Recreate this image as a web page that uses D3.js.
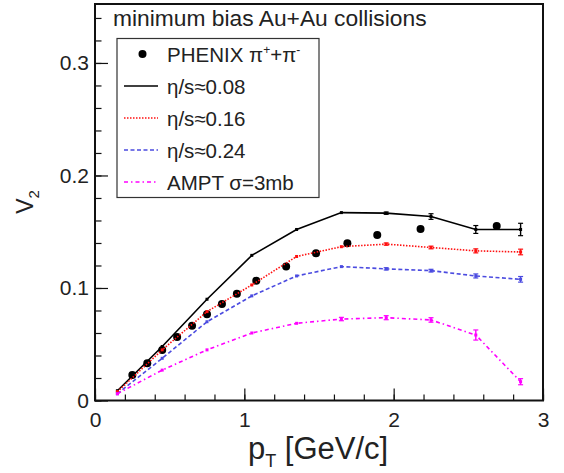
<!DOCTYPE html>
<html>
<head>
<meta charset="utf-8">
<script src="https://cdn.jsdelivr.net/npm/d3@7"></script>
<style>
  body { margin: 0; background: #fff; }
  svg text { font-family: "Liberation Sans", Arial, Helvetica, sans-serif; fill: #222; }
</style>
</head>
<body>
<div id="chart"></div>
<script>
// model curves share the same pT nodes
var ptModel = [0.15, 0.45, 0.75, 1.05, 1.35, 1.65, 1.95, 2.25, 2.55, 2.85]
var v2Eta008 = [0.0087, 0.048, 0.090, 0.129, 0.152, 0.167, 0.1665, 0.1635, 0.152, 0.152]
var err008 = [0, 0, 0, 0, 0, 0, 0.001, 0.0025, 0.0035, 0.0055]
var v2Eta016 = [0.0078, 0.045, 0.079, 0.1027, 0.128, 0.1367, 0.139, 0.136, 0.133, 0.132]
var err016 = [0, 0, 0, 0, 0, 0, 0.001, 0.0012, 0.0018, 0.0025]
var v2Eta024 = [0.006, 0.0375, 0.070, 0.093, 0.1107, 0.119, 0.117, 0.1154, 0.1107, 0.1077]
var err024 = [0, 0, 0, 0, 0, 0, 0.001, 0.0012, 0.0018, 0.0025]
var v2Ampt = [0.006, 0.027, 0.045, 0.060, 0.0686, 0.0724, 0.0736, 0.0716, 0.0582, 0.0167]
var errAmpt = [0, 0, 0, 0, 0, 0.0015, 0.0018, 0.002, 0.0045, 0.0027]

// PHENIX pi+ + pi- data
var ptData = [0.25, 0.35, 0.45, 0.55, 0.65, 0.75, 0.85, 0.95, 1.08, 1.28, 1.48, 1.69, 1.89, 2.18, 2.69]
var v2Data = [0.0227, 0.033, 0.0449, 0.0564, 0.0665, 0.0766, 0.0858, 0.0949, 0.1065, 0.119, 0.1308, 0.1397, 0.147, 0.1524, 0.155]

var xTicks = [0, 1, 2, 3]
var yTicks = [0, 0.1, 0.2, 0.3]

var W = 564, H = 473
var m = [4, 21, 72.5, 95] // top right bottom left

var x = d3.scaleLinear().domain([0, 3]).range([m[3], W - m[1]])
var y = d3.scaleLinear().domain([0, 0.3524]).range([H - m[2], m[0]])

var svg = d3.select("#chart").append("svg")
    .attr("width", W)
    .attr("height", H)

svg.append("rect").attr("width", W).attr("height", H).attr("fill", "#fff")

// minor ticks first, majors on top
var yMinor = d3.axisLeft(y).tickValues(d3.range(0, 0.35, 0.02)).tickSize(-6.5).tickFormat("")
var yMajor = d3.axisLeft(y).tickValues(yTicks).tickSize(-13).tickPadding(6)
    .tickFormat(function (d) { return d === 0 ? "0" : d3.format(".1f")(d) })
var xMinor = d3.axisBottom(x).tickValues(d3.range(0, 3.01, 0.2)).tickSize(-6).tickFormat("")
var xMajor = d3.axisBottom(x).tickValues(xTicks).tickSize(-12).tickPadding(12).tickFormat(d3.format("d"))

function styleAxis(g) {
    g.select(".domain").remove()
    g.selectAll("line").attr("stroke", "#111").attr("stroke-width", 1.2)
    g.selectAll("text").attr("font-size", 21).attr("fill", "#222")
        .style("font-family", '"Liberation Sans", Arial, sans-serif')
}

svg.append("g").attr("transform", "translate(" + m[3] + ",0)").call(yMinor).call(styleAxis)
svg.append("g").attr("transform", "translate(" + m[3] + ",0)").call(yMajor).call(styleAxis)
svg.append("g").attr("transform", "translate(0," + (H - m[2]) + ")").call(xMinor).call(styleAxis)
svg.append("g").attr("transform", "translate(0," + (H - m[2]) + ")").call(xMajor).call(styleAxis)

// frame
svg.append("rect")
    .attr("x", x(0)).attr("y", y(0.3524))
    .attr("width", x(3) - x(0)).attr("height", y(0) - y(0.3524))
    .attr("fill", "none").attr("stroke", "#111").attr("stroke-width", 2)

// PHENIX points
svg.append("g").selectAll("circle")
    .data(ptData)
    .enter().append("circle")
    .attr("cx", function (d) { return x(d) })
    .attr("cy", function (d, i) { return y(v2Data[i]) })
    .attr("r", 4)
    .attr("fill", "#000")

var series = [
    { v: v2Eta008, e: err008, color: "#000", dash: null, width: 1.6 },
    { v: v2Eta016, e: err016, color: "#ff1010", dash: "1.5 1.5", width: 1.6 },
    { v: v2Eta024, e: err024, color: "#4b4be0", dash: "4 2.5", width: 1.6 },
    { v: v2Ampt, e: errAmpt, color: "#ff00ff", dash: "4 3 1.5 3", width: 1.6 }
]

var line = d3.line()
    .x(function (d) { return x(d[0]) })
    .y(function (d) { return y(d[1]) })

series.forEach(function (s) {
    var pts = ptModel.map(function (p, i) { return [p, s.v[i], s.e[i]] })
    var g = svg.append("g")
    g.append("path")
        .attr("d", line(pts))
        .attr("fill", "none")
        .attr("stroke", s.color)
        .attr("stroke-width", s.width)
        .attr("stroke-dasharray", s.dash)
    // node markers
    g.selectAll("rect.node").data(pts).enter().append("rect")
        .attr("x", function (d) { return x(d[0]) - 1.5 })
        .attr("y", function (d) { return y(d[1]) - 1.5 })
        .attr("width", 3).attr("height", 3)
        .attr("fill", s.color)
    // error bars
    var eb = g.selectAll("g.err").data(pts.filter(function (d) { return d[2] > 0 })).enter().append("g")
    eb.append("line")
        .attr("x1", function (d) { return x(d[0]) })
        .attr("x2", function (d) { return x(d[0]) })
        .attr("y1", function (d) { return y(d[1] - d[2]) })
        .attr("y2", function (d) { return y(d[1] + d[2]) })
        .attr("stroke", s.color).attr("stroke-width", 1.4)
    eb.selectAll("line.cap").data(function (d) { return [[d[0], d[1] - d[2]], [d[0], d[1] + d[2]]] })
        .enter().append("line")
        .attr("x1", function (d) { return x(d[0]) - 2.5 })
        .attr("x2", function (d) { return x(d[0]) + 2.5 })
        .attr("y1", function (d) { return y(d[1]) })
        .attr("y2", function (d) { return y(d[1]) })
        .attr("stroke", s.color).attr("stroke-width", 1.2)
})

// title
svg.append("text")
    .attr("x", 113).attr("y", 26)
    .attr("font-size", 22.8)
    .text("minimum bias Au+Au collisions")

// legend
var lg = svg.append("g")
lg.append("rect")
    .attr("x", 117).attr("y", 38.5).attr("width", 202).attr("height", 159)
    .attr("fill", "#fff").attr("stroke", "#333").attr("stroke-width", 1.2)

var rowY = [54, 86, 118, 150, 182]

lg.append("circle").attr("cx", 142.5).attr("cy", rowY[0]).attr("r", 4).attr("fill", "#000")
var t0 = lg.append("text").attr("x", 167).attr("y", rowY[0] + 7.5).attr("font-size", 20.5)
t0.append("tspan").text("PHENIX  π")
t0.append("tspan").attr("font-size", 12).attr("dy", -8).text("+")
t0.append("tspan").attr("dy", 8).text("+π")
t0.append("tspan").attr("font-size", 12).attr("dy", -8).text("-")

var labels = ["η/s≈0.08", "η/s≈0.16", "η/s≈0.24", "AMPT σ=3mb"]
series.forEach(function (s, i) {
    lg.append("line")
        .attr("x1", 124).attr("x2", 158)
        .attr("y1", rowY[i + 1]).attr("y2", rowY[i + 1])
        .attr("stroke", s.color).attr("stroke-width", s.width)
        .attr("stroke-dasharray", s.dash)
    lg.append("text")
        .attr("x", 167).attr("y", rowY[i + 1] + 7.5)
        .attr("font-size", 20.5)
        .text(labels[i])
})

// axis titles
var yt = svg.append("text")
    .attr("transform", "translate(33,202) rotate(-90)")
    .attr("text-anchor", "middle")
    .attr("font-size", 23)
yt.append("tspan").text("V")
yt.append("tspan").attr("font-size", 15).attr("dy", 6).text("2")

var xt = svg.append("text")
    .attr("x", 248).attr("y", 459)
    .attr("font-size", 31)
xt.append("tspan").text("p")
xt.append("tspan").attr("font-size", 18).attr("dy", 8).text("T")
xt.append("tspan").attr("dy", -8).text(" [GeV/c]")
</script>
</body>
</html>
